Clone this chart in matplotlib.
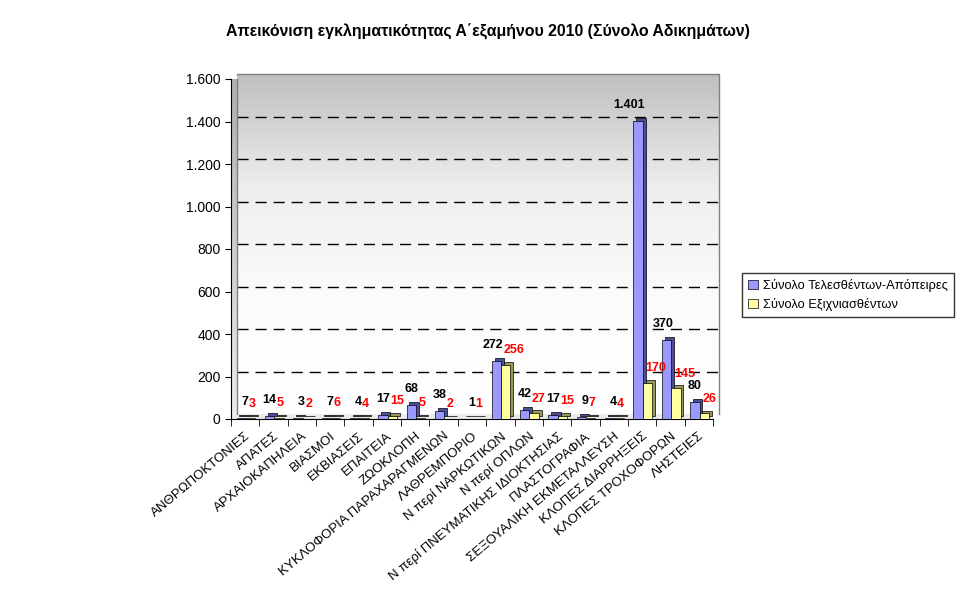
import numpy as np
import matplotlib
matplotlib.use("Agg")
import matplotlib.pyplot as plt
from matplotlib.transforms import ScaledTranslation
from matplotlib.ticker import FuncFormatter
from matplotlib.colors import LinearSegmentedColormap

plt.rcParams['font.family'] = ['Liberation Sans', 'DejaVu Sans']

# data
categories = ['ΑΝΘΡΩΠΟΚΤΟΝΙΕΣ', 'ΑΠΑΤΕΣ', 'ΑΡΧΑΙΟΚΑΠΗΛΕΙΑ', 'ΒΙΑΣΜΟΙ', 'ΕΚΒΙΑΣΕΙΣ',
              'ΕΠΑΙΤΕΙΑ', 'ΖΩΟΚΛΟΠΗ', 'ΚΥΚΛΟΦΟΡΙΑ ΠΑΡΑΧΑΡΑΓΜΕΝΩΝ', 'ΛΑΘΡΕΜΠΟΡΙΟ',
              'Ν περί ΝΑΡΚΩΤΙΚΩΝ', 'Ν περί ΟΠΛΩΝ', 'Ν περί ΠΝΕΥΜΑΤΙΚΗΣ ΙΔΙΟΚΤΗΣΙΑΣ',
              'ΠΛΑΣΤΟΓΡΑΦΙΑ', 'ΣΕΞΟΥΑΛΙΚΗ ΕΚΜΕΤΑΛΛΕΥΣΗ', 'ΚΛΟΠΕΣ ΔΙΑΡΡΗΞΕΙΣ',
              'ΚΛΟΠΕΣ ΤΡΟΧΟΦΟΡΩΝ', 'ΛΗΣΤΕΙΕΣ']
total = [7, 14, 3, 7, 4, 17, 68, 38, 1, 272, 42, 17, 9, 4, 1401, 370, 80]
solved = [3, 5, 2, 6, 4, 15, 5, 2, 1, 256, 27, 15, 7, 4, 170, 145, 26]
series_names = ['Σύνολο Τελεσθέντων-Απόπειρες', 'Σύνολο Εξιχνιασθέντων']
title = 'Απεικόνιση εγκληματικότητας Α΄εξαμήνου 2010 (Σύνολο Αδικημάτων)'

def fmt(v, pos=None):
    return f'{int(v):,}'.replace(',', '.')

n = len(categories)
fig = plt.figure(figsize=(9.77, 6.0), dpi=100)
ax = fig.add_axes([231/977, 1-419/600, (713-231)/977, 340/600])
ax.set_xlim(-0.5, n-0.5)
ax.set_ylim(0, 1600)

# 3D-ish walls: side wall (darker) and back wall shifted up/right
grad = np.linspace(1, 0, 256).reshape(-1, 1)
ax.imshow(grad, extent=(-0.5, n-0.5, 0, 1600), aspect='auto',
          cmap=LinearSegmentedColormap.from_list('s', ['#ececec', '#b0b0b0']),
          zorder=0)
shift = ax.transData + ScaledTranslation(0.06, 0.05, fig.dpi_scale_trans)
ax.imshow(grad, extent=(-0.5, n-0.5, 0, 1600), aspect='auto',
          cmap=LinearSegmentedColormap.from_list('w', ['#ffffff', '#fcfcfc', '#eeeeee', '#bfbfbf']),
          transform=shift, zorder=0.5, clip_on=False)
for g in range(200, 1600, 200):
    ax.plot([-0.5, n-0.5], [g, g], color='black', lw=1,
            dashes=(8, 5), transform=shift, zorder=1, clip_on=False)
ax.plot([-0.5, n-0.5, n-0.5], [1600, 1600, 0],
        color='#808080', lw=1, transform=shift, zorder=1, clip_on=False)
ax.plot([-0.5, -0.5], [0, 1600], color='#808080', lw=1, transform=shift, zorder=1)

x = np.arange(n)
w = 0.33
dx, dy = 0.1, 14
blue, blue_d = '#9999ff', '#4d4d99'
yel, yel_d = '#ffffa0', '#99995c'
ax.bar(x - 0.14 + dx, total, w, bottom=dy, color=blue_d, edgecolor='black', lw=0.5, zorder=2)
ax.bar(x - 0.14, total, w, color=blue, edgecolor='black', lw=0.5, zorder=3,
       label=series_names[0])
ax.bar(x + 0.19 + dx, solved, w, bottom=dy, color=yel_d, edgecolor='black', lw=0.5, zorder=4)
ax.bar(x + 0.19, solved, w, color=yel, edgecolor='black', lw=0.5, zorder=5,
       label=series_names[1])

for i in range(n):
    ax.annotate(fmt(total[i]), (x[i] + 0.1, total[i] + dy), xytext=(0, 5),
                textcoords='offset points', ha='right', va='bottom',
                fontsize=9, fontweight='bold', color='black', zorder=6)
    ax.annotate(fmt(solved[i]), (x[i] + 0.12, solved[i] + dy), xytext=(0, 4),
                textcoords='offset points', ha='left', va='bottom',
                fontsize=9, fontweight='bold', color='red', zorder=6)

ax.set_yticks(range(0, 1601, 200))
ax.yaxis.set_major_formatter(FuncFormatter(fmt))
ax.set_xticks(np.arange(-0.5, n), minor=True)
ax.set_xticks(x)
ax.set_xticklabels(categories, rotation=40, ha='right', rotation_mode='anchor',
                   fontsize=9.5)
ax.tick_params(axis='x', which='major', length=0, pad=8)
ax.tick_params(axis='x', which='minor', length=5, direction='out')
ax.tick_params(axis='y', length=4, labelsize=10)
for s in ['top', 'right']:
    ax.spines[s].set_visible(False)

fig.text(488/977, 1-32/600, title, ha='center', va='center', fontsize=11.4,
         fontweight='bold')
leg = fig.legend(loc='center left', bbox_to_anchor=(742/977, 1-295/600),
                 fontsize=9.3, frameon=True, fancybox=False, edgecolor='black',
                 handlelength=0.7, handleheight=0.7, handletextpad=0.4,
                 borderpad=0.5, labelspacing=0.45, borderaxespad=0)
leg.get_frame().set_linewidth(1)

fig.savefig('out.png', dpi=100)
